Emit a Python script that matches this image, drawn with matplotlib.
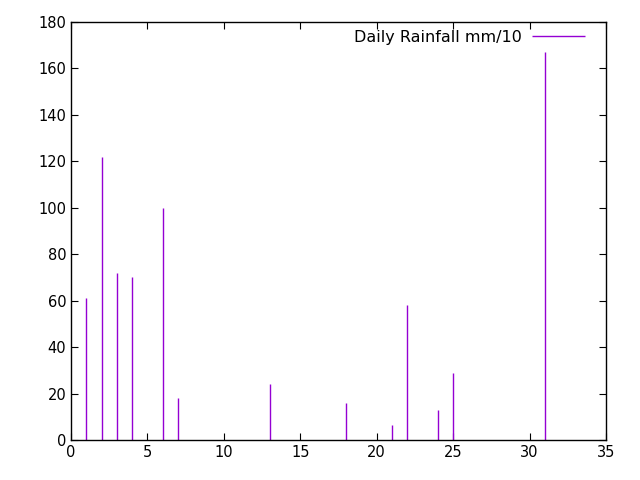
import matplotlib
matplotlib.use("Agg")
import matplotlib.pyplot as plt

# day of month and rainfall (mm/10)
days = [1, 2, 3, 4, 6, 7, 13, 18, 21, 22, 24, 25, 31]
rain = [61, 122, 72, 70, 100, 18, 24, 16, 6.5, 58, 13, 29, 167]

xticks = [0, 5, 10, 15, 20, 25, 30, 35]
yticks = [0, 20, 40, 60, 80, 100, 120, 140, 160, 180]

fig = plt.figure(figsize=(6.4, 4.8), dpi=100)
ax = fig.add_axes([71 / 640, 40 / 480, 535 / 640, 418 / 480])

ax.vlines(days, 0, rain, color="#9400d3", linewidth=1, label="Daily Rainfall mm/10")

ax.set_xlim(0, 35)
ax.set_ylim(0, 180)
ax.set_xticks(xticks)
ax.set_yticks(yticks)
ax.tick_params(direction="in", top=True, right=True, length=5, labelsize=10.5)
for s in ax.spines.values():
    s.set_linewidth(1)

leg = ax.legend(loc="upper right", frameon=False, markerfirst=False,
                handlelength=3.3, handletextpad=0.65, fontsize=11.5,
                borderpad=0, borderaxespad=0,
                bbox_to_anchor=((585 - 71) / 535, (440 - 30) / 418))

fig.savefig("out.png", dpi=100)
